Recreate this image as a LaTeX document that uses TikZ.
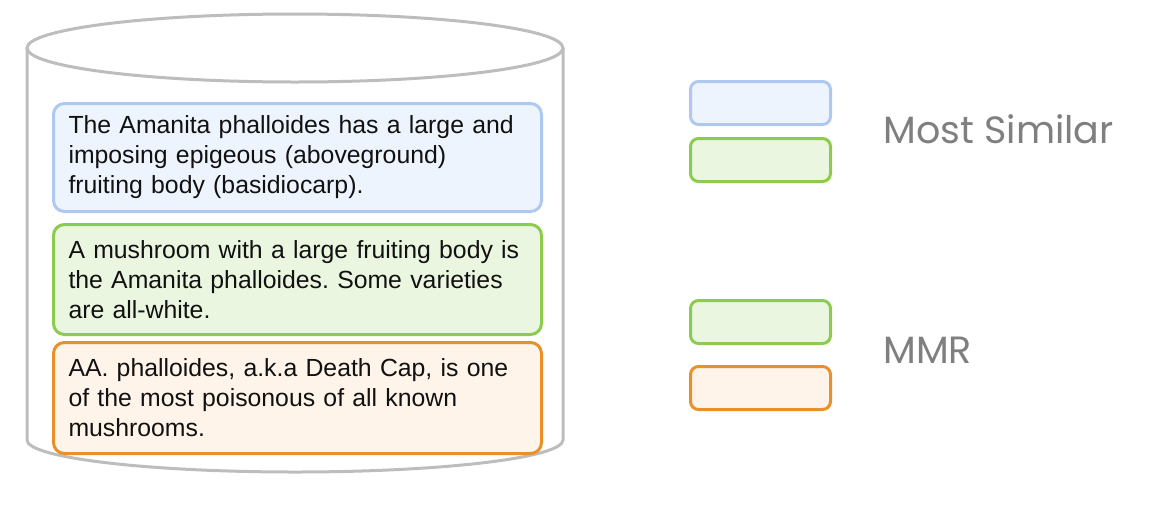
\documentclass[tikz,border=0pt]{standalone}
\usepackage{fontspec}
\setmainfont{Liberation Sans}
\newfontfamily\legendfont{Poppins}
\frenchspacing
\definecolor{cylgray}{HTML}{BDBDBD}
\definecolor{bluedraw}{HTML}{AFC8F0}
\definecolor{bluefill}{HTML}{EEF4FD}
\definecolor{greendraw}{HTML}{8CCB4E}
\definecolor{greenfill}{HTML}{EBF6E1}
\definecolor{orangedraw}{HTML}{E8902A}
\definecolor{orangefill}{HTML}{FEF4E9}
\definecolor{legendgray}{HTML}{7F7F7F}
\definecolor{textblack}{HTML}{111111}
\tikzset{
  docbox/.style={draw, line width=3pt, rounded corners=11pt, anchor=north west,
    minimum width=488pt, minimum height=108pt, inner xsep=15pt,
    text width=458pt, align=left, text=textblack,
    font=\frenchspacing\fontsize{24.8}{30}\selectfont},
  legbox/.style={draw, line width=3pt, rounded corners=8pt, anchor=north west,
    minimum width=140pt, minimum height=43pt},
  legtext/.style={anchor=west, text=legendgray, font=\legendfont\fontsize{38}{42}\selectfont},
  cyl/.style={draw=cylgray, line width=3pt}
}
\begin{document}
\begin{tikzpicture}[x=1pt,y=-1pt]
\useasboundingbox (0,0) rectangle (1174,504);
% cylinder
\fill[white] (27,48) -- (27,440) arc[start angle=180, end angle=360, x radius=268, y radius=-32] -- (563,48) -- cycle;
\draw[cyl] (27,48) -- (27,440) arc[start angle=180, end angle=360, x radius=268, y radius=-32] -- (563,48);
\draw[cyl, fill=white] (295,48) ellipse[x radius=268, y radius=34];
% document boxes
\node[docbox, draw=bluedraw, fill=bluefill] (d1) at (52,102)
  {The Amanita phalloides has a large and\\ imposing epigeous (aboveground)\\ fruiting body (basidiocarp).};
\node[docbox, draw=greendraw, fill=greenfill, minimum height=110pt] (d2) at (52,223)
  {A mushroom with a large fruiting body is\\ the Amanita phalloides. Some varieties\\ are all-white.};
\node[docbox, draw=orangedraw, fill=orangefill, minimum height=111pt] (d3) at (52,341)
  {AA. phalloides, a.k.a Death Cap, is one\\ of the most poisonous of all known\\ mushrooms.};
% legend
\node[legbox, draw=bluedraw, fill=bluefill] (l1) at (689,80) {};
\node[legbox, draw=greendraw, fill=greenfill] (l2) at (689,137) {};
\node[legbox, draw=greendraw, fill=greenfill] (l3) at (689,299) {};
\node[legbox, draw=orangedraw, fill=orangefill] (l4) at (689,365) {};
\node[legtext] (t1) at (880,129) {Most Similar};
\node[legtext] (t2) at (880,350) {MMR};
\end{tikzpicture}
\end{document}
